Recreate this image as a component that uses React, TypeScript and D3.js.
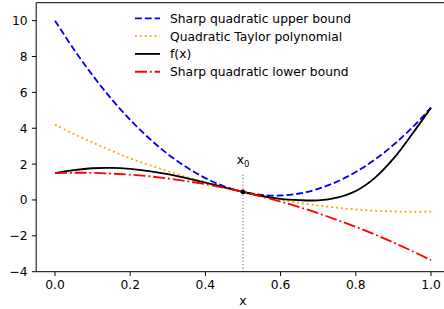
// App.tsx

import React from "react";
import * as d3 from "d3";

const xs = [
  0, 0.05, 0.1, 0.15, 0.2, 0.25, 0.3, 0.35, 0.4, 0.45, 0.5, 0.55, 0.6, 0.65,
  0.7, 0.75, 0.8, 0.85, 0.9, 0.95, 1.0,
];

// values
const upperBound = [
  10.0, 8.4, 6.95, 5.64, 4.47, 3.44, 2.56, 1.82, 1.22, 0.76, 0.45, 0.28, 0.25,
  0.36, 0.62, 1.02, 1.56, 2.24, 3.07, 4.04, 5.15,
];
const taylorPoly = [
  4.2, 3.68, 3.2, 2.75, 2.32, 1.96, 1.61, 1.28, 0.98, 0.7, 0.45, 0.22, 0.02,
  -0.16, -0.31, -0.43, -0.53, -0.6, -0.64, -0.66, -0.65,
];
const fValues = [
  1.5, 1.66, 1.77, 1.79, 1.73, 1.61, 1.44, 1.22, 0.97, 0.7, 0.45, 0.22, 0.06,
  -0.01, -0.02, 0.13, 0.5, 1.22, 2.3, 3.68, 5.15,
];
const lowerBound = [
  1.5, 1.52, 1.51, 1.47, 1.41, 1.32, 1.2, 1.05, 0.88, 0.68, 0.45, 0.19, -0.09,
  -0.4, -0.74, -1.11, -1.5, -1.92, -2.37, -2.85, -3.35,
];

const x0 = 0.5;
const fx0 = 0.45;
const vlineTop = 1.5;
const x0LabelY = 2.0;

const xTicks = [0, 0.2, 0.4, 0.6, 0.8, 1.0];
const yTicks = [-4, -2, 0, 2, 4, 6, 8, 10];

const legendLabels = [
  "Sharp quadratic upper bound",
  "Quadratic Taylor polynomial",
  "f(x)",
  "Sharp quadratic lower bound",
];

const W = 444;
const H = 309;
const FONT = "DejaVu Sans, sans-serif";
const FS = 12.3;

const App = () => {
  const x = d3.scaleLinear().domain([-0.05, 1.05]).range([36.2, 449.8]);
  const y = d3.scaleLinear().domain([-4, 11]).range([271.7, 2.7]);

  const line = d3
    .line<number>()
    .x((d, i) => x(xs[i]))
    .y((d) => y(d))
    .curve(d3.curveCatmullRom);

  const series = [
    { vals: upperBound, color: "#0000ff", dash: "6.85,2.96" },
    { vals: taylorPoly, color: "#ffa500", dash: "1.85,3.06" },
    { vals: fValues, color: "#000000", dash: "" },
    { vals: lowerBound, color: "#ff0000", dash: "11.9,2.96,1.85,2.96" },
  ];

  const left = x.range()[0];
  const bottom = y.range()[0];
  const top = y.range()[1];

  return (
    <svg
      width={W}
      height={H}
      style={{ position: "absolute", left: 0, top: 0, background: "#fff" }}
      fontFamily={FONT}
    >
      <defs>
        <clipPath id="plot">
          <rect x={left} y={top} width={W - left} height={bottom - top} />
        </clipPath>
      </defs>

      {/* vertical marker at x0 */}
      <line
        x1={x(x0)}
        x2={x(x0)}
        y1={bottom}
        y2={y(vlineTop)}
        stroke="gray"
        strokeWidth={1.2}
        strokeDasharray="1.2,2.1"
      />

      <g clipPath="url(#plot)">
        {series.map((s, i) => (
          <path
            key={i}
            d={line(s.vals) || ""}
            fill="none"
            stroke={s.color}
            strokeWidth={1.85}
            strokeDasharray={s.dash || undefined}
          />
        ))}
      </g>

      <circle cx={x(x0)} cy={y(fx0)} r={2.3} fill="#000" />

      <text x={x(x0)} y={y(x0LabelY)} textAnchor="middle" fontSize={FS}>
        x
        <tspan fontSize={FS * 0.7} dy={3}>
          0
        </tspan>
      </text>

      {/* spines */}
      <line x1={left} x2={left} y1={top} y2={bottom} stroke="#000" strokeWidth={1} />
      <line x1={left} x2={W} y1={top} y2={top} stroke="#000" strokeWidth={1} />
      <line x1={left} x2={W} y1={bottom} y2={bottom} stroke="#000" strokeWidth={1} />

      {/* x axis */}
      {xTicks.map((t) => (
        <g key={t} transform={`translate(${x(t)},${bottom})`}>
          <line y1={0} y2={4.3} stroke="#000" strokeWidth={1} />
          <text y={17.6} textAnchor="middle" fontSize={FS}>
            {t.toFixed(1)}
          </text>
        </g>
      ))}
      <text x={x(0.5)} y={305} textAnchor="middle" fontSize={FS}>
        x
      </text>

      {/* y axis */}
      {yTicks.map((t) => (
        <g key={t} transform={`translate(${left},${y(t)})`}>
          <line x1={0} x2={-4.3} stroke="#000" strokeWidth={1} />
          <text x={-8.6} dy="0.36em" textAnchor="end" fontSize={FS}>
            {t < 0 ? `\u2212${-t}` : t}
          </text>
        </g>
      ))}

      {/* legend */}
      {series.map((s, i) => {
        const ly = 18.3 + i * 17.8;
        return (
          <g key={i}>
            <line
              x1={135}
              x2={160}
              y1={ly}
              y2={ly}
              stroke={s.color}
              strokeWidth={1.85}
              strokeDasharray={s.dash || undefined}
            />
            <text x={170} y={ly} dy="0.36em" fontSize={FS}>
              {legendLabels[i]}
            </text>
          </g>
        );
      })}
    </svg>
  );
};

export default App;
